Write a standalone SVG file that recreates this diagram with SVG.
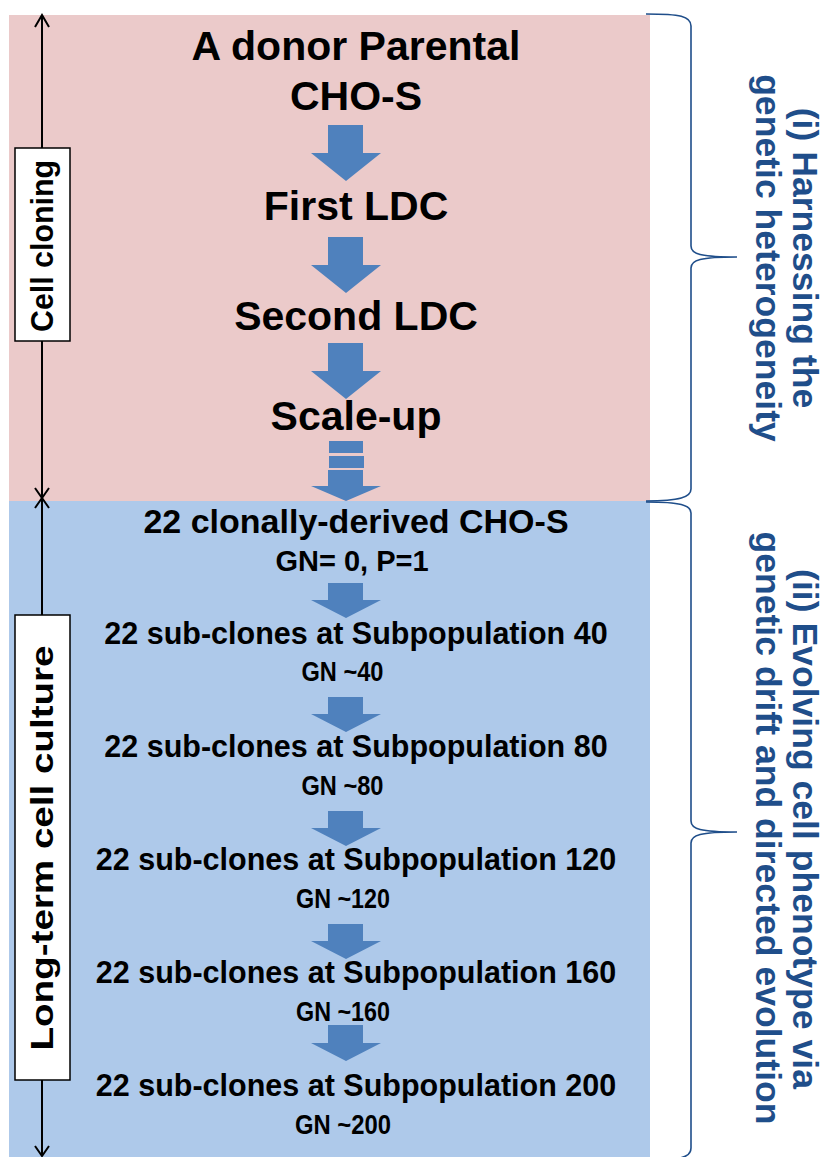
<svg xmlns="http://www.w3.org/2000/svg" width="828" height="1157" viewBox="0 0 828 1157">
<defs>
<style>
.t{font-family:"Liberation Sans",Arial,sans-serif;font-weight:bold;fill:#000;text-anchor:middle}
.big{font-size:41px}
.mid{font-size:30.5px}
.gn{font-size:29px}
.gn2{font-size:27.5px}
.side{font-family:"Liberation Sans",Arial,sans-serif;font-weight:bold;fill:#1F4E8A;font-size:35.6px;text-anchor:middle}
.lbl{font-family:"Liberation Sans",Arial,sans-serif;font-weight:bold;fill:#000;font-size:31px;text-anchor:middle}
.arr{fill:#4F81BD}
.brace{fill:none;stroke:#1F4E8A;stroke-width:1.6}
.axis{stroke:#000;stroke-width:2;fill:none}
.box{fill:#fff;stroke:#000;stroke-width:1.5}
</style>
</defs>
<rect x="9" y="15" width="641" height="486" fill="#EBCACA"/>
<rect x="9" y="501" width="641" height="656" fill="#AEC9EA"/>

<g id="axis">
<line class="axis" x1="42" y1="15" x2="42" y2="498"/>
<line class="axis" x1="42" y1="498" x2="42" y2="1156"/>
<polyline class="axis" points="35,27 42,15 49,27"/>
<polyline class="axis" points="35,488 42,498 49,488"/>
<polyline class="axis" points="35,508 42,498 49,508"/>
<polyline class="axis" points="35,1146 42,1156 49,1146"/>
</g>

<g id="cell-cloning">
<rect class="box" x="15" y="148" width="55" height="193"/>
<text class="lbl" transform="translate(53,246) rotate(-90)" textLength="172" lengthAdjust="spacingAndGlyphs">Cell cloning</text>
</g>
<g id="long-term">
<rect class="box" x="15" y="615" width="55" height="465"/>
<text class="lbl" transform="translate(53,848) rotate(-90)" textLength="405" lengthAdjust="spacingAndGlyphs">Long-term cell culture</text>
</g>

<g id="connectors">
<path class="arr" d="M328,125 H363 V153 H381 L346,181 L311,153 H328 Z"/>
<path class="arr" d="M328,237 H363 V265 H381 L346,293 L311,265 H328 Z"/>
<path class="arr" d="M328,343 H363 V371 H381 L346,399 L311,371 H328 Z"/>
<rect class="arr" x="329" y="441" width="34" height="12"/>
<rect class="arr" x="329" y="456" width="35" height="12"/>
<path class="arr" d="M328,470 H363 V486 H381 L346,501 L311,486 H328 Z"/>
<path class="arr" d="M328,583 H363 V600 H381 L346,618 L311,600 H328 Z"/>
<path class="arr" d="M328,697 H363 V714 H381 L346,732 L311,714 H328 Z"/>
<path class="arr" d="M328,811 H363 V828 H381 L346,846 L311,828 H328 Z"/>
<path class="arr" d="M328,924 H363 V941 H381 L346,959 L311,941 H328 Z"/>
<path class="arr" d="M328,1025 H363 V1043 H381 L346,1061 L311,1043 H328 Z"/>
</g>

<g id="n-donor"><text class="t big" x="356" y="60">A donor Parental</text><text class="t big" x="356" y="110">CHO-S</text></g>
<g id="n-first"><text class="t big" x="356" y="220">First LDC</text></g>
<g id="n-second"><text class="t big" x="356" y="330">Second LDC</text></g>
<g id="n-scale"><text class="t big" x="356" y="430">Scale-up</text></g>

<g id="n-22"><text class="t" x="356" y="533" style="font-size:34px">22 clonally-derived CHO-S</text><text class="t gn" x="352" y="571">GN= 0, P=1</text></g>
<g id="n-40"><text class="t mid" x="356" y="644">22 sub-clones at Subpopulation 40</text><text class="t gn2" x="342.5" y="681" textLength="82" lengthAdjust="spacingAndGlyphs">GN ~40</text></g>
<g id="n-80"><text class="t mid" x="356" y="757">22 sub-clones at Subpopulation 80</text><text class="t gn2" x="342.5" y="795" textLength="82" lengthAdjust="spacingAndGlyphs">GN ~80</text></g>
<g id="n-120"><text class="t mid" x="356" y="870">22 sub-clones at Subpopulation 120</text><text class="t gn2" x="343" y="908" textLength="94" lengthAdjust="spacingAndGlyphs">GN ~120</text></g>
<g id="n-160"><text class="t mid" x="356" y="983">22 sub-clones at Subpopulation 160</text><text class="t gn2" x="343" y="1021" textLength="94" lengthAdjust="spacingAndGlyphs">GN ~160</text></g>
<g id="n-200"><text class="t mid" x="356" y="1096">22 sub-clones at Subpopulation 200</text><text class="t gn2" x="343" y="1134" textLength="96" lengthAdjust="spacingAndGlyphs">GN ~200</text></g>

<g id="brace-i">
<path class="brace" d="M646,14 C680,14 691,16 691,26 V246 C691,254 700,257 737,257 C700,257 691,260 691,268 V489 C691,497 680,501 646,501"/>
<text class="side" transform="translate(793,258) rotate(90)">(i) Harnessing the</text>
<text class="side" transform="translate(756,258) rotate(90)">genetic heterogeneity</text>
</g>
<g id="brace-ii">
<path class="brace" d="M646,502 C680,502 691,505 691,513 V821 C691,829 700,832 737,832 C700,832 691,835 691,843 V1148 C691,1154 685,1157 680,1158"/>
<text class="side" transform="translate(793,829) rotate(90)">(ii) Evolving cell phenotype via</text>
<text class="side" transform="translate(756,828) rotate(90)">genetic drift and directed evolution</text>
</g>
</svg>
